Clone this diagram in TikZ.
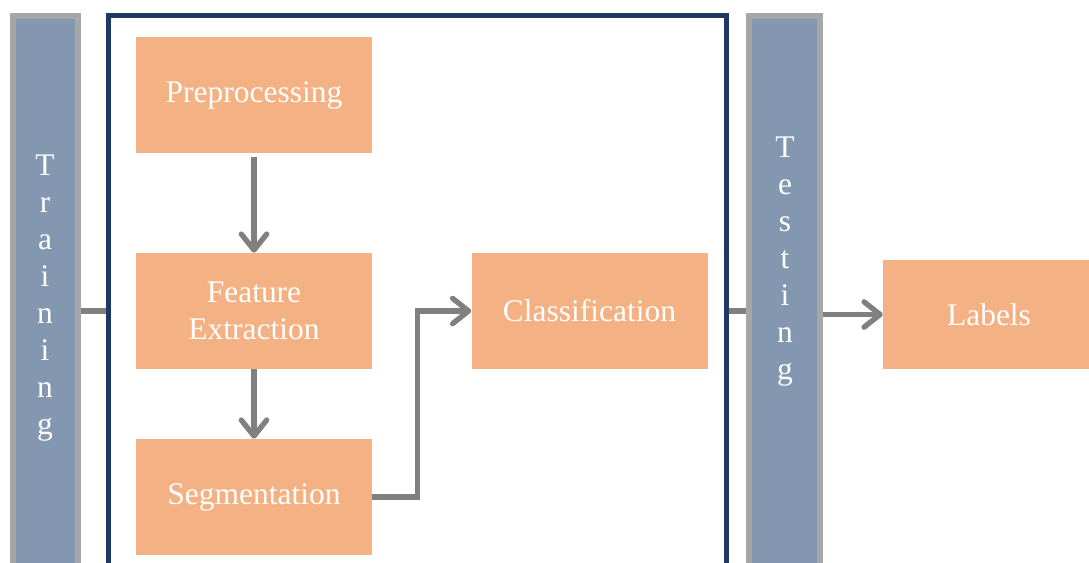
\documentclass[tikz,border=0pt]{standalone}
\usepackage{fontspec}
\setmainfont{Liberation Serif}
\usetikzlibrary{arrows.meta}
\definecolor{stepfill}{HTML}{F4B183}
\definecolor{barfill}{HTML}{8497B0}
\definecolor{barline}{HTML}{A6A6A6}
\definecolor{framenavy}{HTML}{203864}
\definecolor{flowgray}{HTML}{808080}

\begin{document}
\begin{tikzpicture}[x=0.75pt,y=-0.75pt,
  stepbox/.style={fill=stepfill, text=white, minimum width=177pt, minimum height=87pt, inner sep=0pt, align=center, font=\fontsize{23.6}{27.75}\selectfont},
  phasebar/.style={draw=barline, line width=4.5pt, fill=barfill, inner sep=0pt},
  phasetext/.style={text=white, align=center, inner sep=0pt, font=\fontsize{23.6}{27.75}\selectfont},
  link/.style={draw=flowgray, line width=4pt},
  flow/.style={link, -{Straight Barb[length=12pt,width=19pt,round]}}]
\useasboundingbox (0,0) rectangle (1089,563);

\node[phasebar, minimum width=48.75pt, minimum height=468pt] (train) at (45.5,328) {};
\node[phasetext] (trainlbl) at (45,298) {T\\r\\a\\i\\n\\i\\n\\g};
\node[phasebar, minimum width=53.25pt, minimum height=468pt] (test) at (784.5,328) {};
\node[phasetext] (testlbl) at (785,262) {T\\e\\s\\t\\i\\n\\g};
\node[draw=framenavy, line width=3.75pt, inner sep=0pt, minimum width=463.5pt, minimum height=465pt] (frame) at (417.5,325.5) {};

\node[stepbox] (pre) at (254,95) {Preprocessing};
\node[stepbox] (fe) at (254,311) {Feature\\Extraction};
\node[stepbox] (seg) at (254,497) {Segmentation};
\node[stepbox] (cls) at (589.5,311) {Classification};
\node[stepbox, minimum width=159pt, minimum height=81.75pt] (lbl) at (989,314.5) {Labels};

\draw[flow, shorten <=3pt] (pre) -- (fe);
\draw[flow] (fe) -- (seg);
\draw[flow] (seg.east) -- ++(45,0) |- (cls.west);
\draw[link] (train.east |- fe) -- (frame.west |- fe);
\draw[link] (frame.east |- fe) -- (test.west |- fe);
\draw[flow] (test.east |- lbl) -- (lbl.west);
\end{tikzpicture}
\end{document}
